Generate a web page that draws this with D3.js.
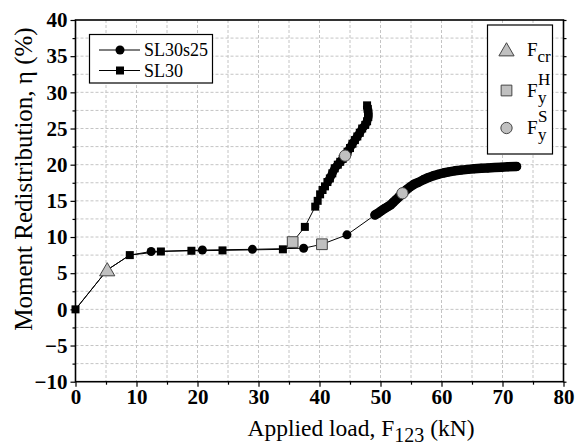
<!DOCTYPE html>
<html>
<head>
<meta charset="utf-8">
<script src="https://cdn.jsdelivr.net/npm/d3@7"></script>
<style>
  body { margin: 0; background: #fff; }
</style>
</head>
<body>
<svg id="chart" width="584" height="446" font-family="Liberation Serif"></svg>
<script>
// SL30s25 (circles); points from index 9 on form the dense band
var s25Load = [0, 5.2, 8.9, 12.4, 20.8, 29.0, 37.4, 40.4, 44.5,
    49.1, 49.6, 50.1, 50.6, 51.1, 51.6, 52.1, 52.6, 53.1, 53.6, 54.2, 54.8, 55.5, 56.2,
    57.0, 57.8, 58.6, 59.4, 60.3, 61.2, 62.2, 63.2, 64.3, 65.4, 66.5, 67.6, 68.7, 69.8, 70.9, 72.3];
var s25Eta = [0, 5.45, 7.5, 8.0, 8.2, 8.3, 8.45, 9.0, 10.3,
    13.05, 13.3, 13.6, 13.9, 14.15, 14.4, 14.8, 15.2, 15.6, 16.05, 16.5, 16.9, 17.3, 17.55,
    17.9, 18.2, 18.45, 18.65, 18.85, 19.0, 19.15, 19.25, 19.35, 19.45, 19.5, 19.55, 19.6, 19.65, 19.7, 19.75];
var s25Dense = 9;

// SL30 (squares); points from index 10 on form the dense band
var s30Load = [0, 5.2, 8.9, 14.0, 19.0, 24.1, 34.0, 35.6, 37.6, 39.3,
    39.7, 40.1, 40.5, 40.9, 41.3, 41.7, 42.1, 42.5, 43.0, 43.4, 43.8, 44.2, 44.6, 45.0,
    45.4, 45.8, 46.2, 46.6, 47.0, 47.5, 47.8, 48.0, 48.0, 47.9, 47.8];
var s30Eta = [0, 5.45, 7.5, 8.0, 8.1, 8.15, 8.3, 9.3, 11.4, 14.2,
    15.0, 15.9, 16.5, 17.0, 17.6, 18.1, 18.8, 19.5, 20.0, 20.4, 20.8, 21.25, 21.8, 22.3,
    22.9, 23.4, 23.9, 24.4, 25.0, 25.5, 26.0, 26.6, 27.2, 27.7, 28.2];
var s30Dense = 14;

// key points: cracking, yield of hogging / sagging reinforcement
var keyLoad = [5.2, 35.6, 40.4, 44.2, 53.6];
var keyEta = [5.45, 9.3, 9.0, 21.25, 16.05];
var keyType = ["cr", "H", "H", "S", "S"];

var xTicks = [0, 10, 20, 30, 40, 50, 60, 70, 80];
var yTicks = [-10, -5, 0, 5, 10, 15, 20, 25, 30, 35, 40];

var svg = d3.select("#chart");
var m = {left: 75.5, top: 20, right: 20.5, bottom: 64.3};
var W = 584 - m.left - m.right, H = 446 - m.top - m.bottom;

var x = d3.scaleLinear().domain([0, 80]).range([m.left, m.left + W]);
var y = d3.scaleLinear().domain([-10, 40]).range([m.top + H, m.top]);

// grid
var g = svg.append("g");
g.selectAll(".gx").data(d3.range(5, 80, 5)).enter().append("line")
    .attr("x1", d => x(d)).attr("x2", d => x(d))
    .attr("y1", m.top).attr("y2", m.top + H)
    .attr("stroke", "#c4c4c4").attr("stroke-dasharray", "3,2");
g.selectAll(".gy").data(d3.range(-7.5, 40, 2.5)).enter().append("line")
    .attr("y1", d => y(d)).attr("y2", d => y(d))
    .attr("x1", m.left).attr("x2", m.left + W)
    .attr("stroke", "#c4c4c4").attr("stroke-dasharray", "3,2");

// axes
var minorY = d3.range(-10, 40.1, 2.5).filter(d => d % 5 !== 0);
var minorX = d3.range(5, 80, 10);

svg.append("g").attr("transform", "translate(" + m.left + ",0)")
    .call(d3.axisLeft(y).tickValues(yTicks).tickSize(5).tickPadding(3))
    .call(a => a.select(".domain").remove());
svg.append("g").attr("transform", "translate(" + m.left + ",0)")
    .call(d3.axisLeft(y).tickValues(minorY).tickSize(3).tickFormat(""))
    .call(a => a.select(".domain").remove());
svg.append("g").attr("transform", "translate(" + (m.left + W) + ",0)")
    .call(d3.axisRight(y).tickValues(d3.range(-10, 40.1, 2.5)).tickSize(3).tickFormat(""))
    .call(a => a.select(".domain").remove());
svg.append("g").attr("transform", "translate(0," + (m.top + H) + ")")
    .call(d3.axisBottom(x).tickValues(xTicks).tickSize(5).tickPadding(2))
    .call(a => a.select(".domain").remove());
svg.append("g").attr("transform", "translate(0," + (m.top + H) + ")")
    .call(d3.axisBottom(x).tickValues(minorX).tickSize(3).tickFormat(""))
    .call(a => a.select(".domain").remove());

svg.selectAll(".tick line").attr("stroke", "#000").attr("stroke-width", 1.2);
svg.selectAll(".tick text").attr("font-weight", "bold")
    .attr("font-size", 21).attr("fill", "#000");

svg.append("rect").attr("x", m.left).attr("y", m.top).attr("width", W).attr("height", H)
    .attr("fill", "none").attr("stroke", "#000").attr("stroke-width", 1.6);

// series
function pts(load, eta) { return load.map((d, i) => [d, eta[i]]); }
function isKey(d) { return keyLoad.some((k, i) => k === d[0] && keyEta[i] === d[1]); }
var line = d3.line().x(d => x(d[0])).y(d => y(d[1]));
var s25 = pts(s25Load, s25Eta), s30 = pts(s30Load, s30Eta);

[s25, s30].forEach(s => {
    svg.append("path").datum(s).attr("d", line)
        .attr("fill", "none").attr("stroke", "#000").attr("stroke-width", 1);
});
svg.append("path").datum(s25.slice(s25Dense)).attr("d", line)
    .attr("fill", "none").attr("stroke", "#000").attr("stroke-width", 9.5)
    .attr("stroke-linecap", "round").attr("stroke-linejoin", "round");
svg.append("path").datum(s30.slice(s30Dense)).attr("d", line)
    .attr("fill", "none").attr("stroke", "#000").attr("stroke-width", 8.5)
    .attr("stroke-linejoin", "round");

// circles hidden where SL30 squares share the point
var s30Keys = s30.map(d => d.join());
svg.selectAll(".c25").data(s25.filter(d => !isKey(d) && s30Keys.indexOf(d.join()) < 0))
    .enter().append("circle")
    .attr("cx", d => x(d[0])).attr("cy", d => y(d[1])).attr("r", 4.5).attr("fill", "#000");
svg.selectAll(".s30").data(s30.filter(d => !isKey(d))).enter().append("rect")
    .attr("x", d => x(d[0]) - 4).attr("y", d => y(d[1]) - 4)
    .attr("width", 8).attr("height", 8).attr("fill", "#000");

// key markers
var sym = {
    cr: d3.symbol().type(d3.symbolTriangle).size(100),
    H: d3.symbol().type(d3.symbolSquare).size(115),
    S: d3.symbol().type(d3.symbolCircle).size(100)
};
svg.selectAll(".key").data(keyLoad).enter().append("path")
    .attr("transform", (d, i) => "translate(" + x(d) + "," + (y(keyEta[i]) + (keyType[i] === "cr" ? 1.5 : 0)) + ")")
    .attr("d", (d, i) => sym[keyType[i]]())
    .attr("fill", "#c0c0c0").attr("stroke", "#444").attr("stroke-width", 1);

// legend: series
var lg = svg.append("g");
lg.append("rect").attr("x", 89.5).attr("y", 34.5).attr("width", 123).attr("height", 48.5)
    .attr("fill", "#fff").attr("stroke", "#000").attr("stroke-width", 1.2);
[["SL30s25", "c"], ["SL30", "s"]].forEach((it, i) => {
    var yy = 50 + i * 20.5;
    lg.append("line").attr("x1", 99).attr("x2", 140).attr("y1", yy).attr("y2", yy)
        .attr("stroke", "#000").attr("stroke-width", 1);
    if (it[1] === "c") lg.append("circle").attr("cx", 120).attr("cy", yy).attr("r", 4.5);
    else lg.append("rect").attr("x", 116).attr("y", yy - 4).attr("width", 8).attr("height", 8);
    lg.append("text").attr("x", 144).attr("y", yy + 6).attr("font-size", 18).text(it[0]);
});

// legend: key points
var kg = svg.append("g");
kg.append("rect").attr("x", 487.5).attr("y", 25).attr("width", 65).attr("height", 129)
    .attr("fill", "#fff").attr("stroke", "#000").attr("stroke-width", 1.2);
var kRows = [["cr", 50, "cr", null], ["H", 90.5, "y", "H"], ["S", 128, "y", "S"]];
kRows.forEach(r => {
    kg.append("path").attr("transform", "translate(506.5," + (r[1] + (r[0] === "cr" ? 1.5 : 0)) + ")")
        .attr("d", sym[r[0]]()).attr("fill", "#c0c0c0").attr("stroke", "#444");
    var t = kg.append("text").attr("x", 527).attr("y", r[1] + 6).attr("font-size", 19);
    t.append("tspan").text("F");
    if (r[3]) {
        t.append("tspan").attr("x", 538).attr("dy", 6).attr("font-size", 17).text(r[2]);
        t.append("tspan").attr("x", 538).attr("dy", -18).attr("font-size", 17).text(r[3]);
    } else {
        t.append("tspan").attr("dy", 6).attr("font-size", 17).text(r[2]);
    }
});

// axis titles
var xt = svg.append("text").attr("x", 361).attr("y", 436).attr("text-anchor", "middle")
    .attr("font-size", 23.5);
xt.append("tspan").text("Applied load, F");
xt.append("tspan").attr("dy", 6).attr("font-size", 20).text("123");
xt.append("tspan").attr("dy", -6).text(" (kN)");

svg.append("text").attr("transform", "translate(32,179) rotate(-90)")
    .attr("text-anchor", "middle").attr("font-size", 25)
    .text("Moment Redistribution, \u03b7 (%)");

// the axis generator sets sans-serif on its groups; force the serif face on all text
svg.selectAll("g").attr("font-family", null);
svg.selectAll("text").attr("font-family", "Liberation Serif");
</script>
</body>
</html>
